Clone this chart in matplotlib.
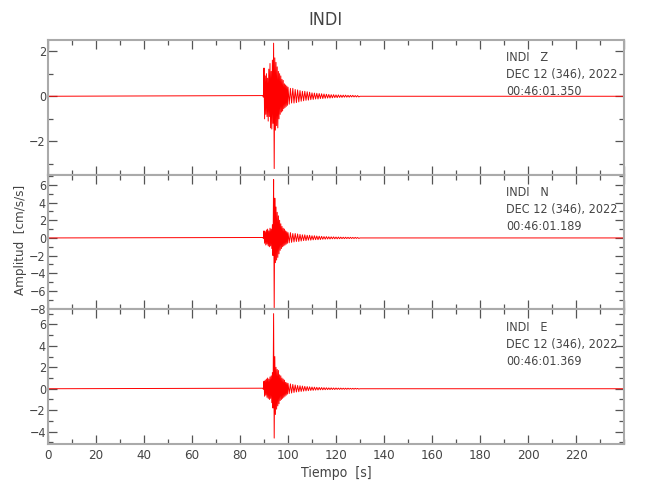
import matplotlib
matplotlib.use("Agg")
import matplotlib.pyplot as plt
from matplotlib.ticker import MultipleLocator
import numpy as np

# station / channel info
station = "INDI"
channels = ["Z", "N", "E"]
start_times = ["00:46:01.350", "00:46:01.189", "00:46:01.369"]
date_label = "DEC 12 (346), 2022"

# sample times: quiet, strong motion (0.25 s), coda (0.5 s), quiet
t_strong = np.arange(89.5, 100.0, 0.25)
t_coda = np.arange(100.0, 130.0, 0.5)

# amplitudes (cm/s/s)
z_strong = [0.03, -0.04, 1.25, -1.0, 0.9, -0.8, 1.0, -0.9, 0.8, -1.1,
            1.2, -0.9, 1.45, -1.4, 1.1, -1.45, 1.6, -1.2, 2.35, -3.2,
            1.7, -1.5, 1.5, -1.3, 1.3, -1.4, 1.1, -1.0, 1.0, -0.8,
            0.9, -0.7, 0.75, -0.65, 0.7, -0.55, 0.55, -0.5, 0.5, -0.45,
            0.45, -0.4]
z_coda = [0.4, -0.35, 0.35, -0.3, 0.35, -0.3, 0.3, -0.28, 0.28, -0.25,
          0.25, -0.22, 0.22, -0.2, 0.22, -0.18, 0.2, -0.17, 0.18, -0.15,
          0.15, -0.14, 0.14, -0.12, 0.13, -0.12, 0.12, -0.1, 0.11, -0.1,
          0.1, -0.09, 0.09, -0.08, 0.08, -0.08, 0.07, -0.07, 0.07, -0.06,
          0.06, -0.06, 0.06, -0.05, 0.05, -0.05, 0.05, -0.04, 0.05, -0.04,
          0.04, -0.04, 0.04, -0.03, 0.04, -0.03, 0.03, -0.03, 0.03, -0.03]

n_strong = [0.05, -0.05, 0.8, -0.6, 0.7, -0.8, 0.9, -0.7, 1.0, -0.9,
            0.8, -1.0, 1.1, -0.9, 1.0, -1.2, 1.5, -2.0, 6.6, -7.9,
            4.5, -2.8, 3.5, -2.5, 2.9, -2.2, 2.5, -1.8, 2.0, -1.4,
            1.6, -1.2, 1.3, -1.0, 1.1, -0.9, 1.0, -0.8, 0.8, -0.7,
            0.7, -0.6]
n_coda = [0.6, -0.55, 0.6, -0.5, 0.5, -0.45, 0.5, -0.4, 0.45, -0.4,
          0.4, -0.35, 0.35, -0.3, 0.35, -0.3, 0.3, -0.25, 0.3, -0.25,
          0.25, -0.22, 0.25, -0.2, 0.22, -0.2, 0.2, -0.18, 0.18, -0.15,
          0.15, -0.14, 0.15, -0.12, 0.13, -0.12, 0.12, -0.1, 0.12, -0.1,
          0.1, -0.1, 0.1, -0.09, 0.09, -0.08, 0.08, -0.08, 0.08, -0.07,
          0.07, -0.07, 0.07, -0.06, 0.06, -0.06, 0.06, -0.05, 0.05, -0.05]

e_strong = [0.05, -0.05, 0.7, -0.7, 0.8, -0.6, 0.9, -0.8, 1.0, -0.9,
            0.9, -1.0, 1.1, -0.9, 1.2, -1.3, 1.5, -1.8, 7.0, -4.6,
            3.0, -2.4, 2.0, -1.9, 1.8, -1.6, 1.7, -1.4, 1.3, -1.1,
            1.2, -1.0, 1.0, -0.9, 0.9, -0.8, 0.8, -0.7, 0.6, -0.6,
            0.55, -0.5]
e_coda = [0.5, -0.45, 0.45, -0.4, 0.4, -0.35, 0.35, -0.3, 0.3, -0.28,
          0.28, -0.25, 0.25, -0.22, 0.22, -0.2, 0.2, -0.18, 0.18, -0.16,
          0.16, -0.15, 0.15, -0.13, 0.13, -0.12, 0.12, -0.1, 0.11, -0.1,
          0.1, -0.09, 0.09, -0.08, 0.08, -0.08, 0.08, -0.07, 0.07, -0.07,
          0.07, -0.06, 0.06, -0.06, 0.06, -0.05, 0.05, -0.05, 0.05, -0.05,
          0.05, -0.04, 0.04, -0.04, 0.04, -0.04, 0.04, -0.03, 0.03, -0.03]

traces = [(z_strong, z_coda), (n_strong, n_coda), (e_strong, e_coda)]
ylims = [(-3.47, 2.49), (-8.08, 7.16), (-5.15, 7.4)]

plt.rcParams['font.family'] = ['DejaVu Sans']
plt.rcParams['font.stretch'] = 'condensed'
txt_col = '#444444'
spine_col = '#aaaaaa'
tick_col = '#555555'

fig = plt.figure(figsize=(6.5, 5), dpi=100)
gs = fig.add_gridspec(3, 1, left=48/650, right=624/650, bottom=1-444/500,
                      top=1-40/500, hspace=0)

t_full = np.concatenate([[0.0], t_strong, t_coda, [130.0, 240.0]])

for i, (strong, coda) in enumerate(traces):
    ax = fig.add_subplot(gs[i])
    y = np.concatenate([[0.0], strong, coda, [0.0, 0.0]])
    ax.plot(t_full, y, color='red', lw=0.7)
    ax.set_xlim(0, 240)
    ax.set_ylim(*ylims[i])
    ax.xaxis.set_major_locator(MultipleLocator(20))
    ax.xaxis.set_minor_locator(MultipleLocator(10))
    ax.yaxis.set_major_locator(MultipleLocator(2))
    ax.yaxis.set_minor_locator(MultipleLocator(1))
    ax.tick_params(which='both', direction='in', top=True, right=True,
                   color=tick_col, labelcolor=txt_col, labelsize=9.5, width=0.9)
    ax.tick_params(which='major', length=6.5)
    ax.tick_params(which='minor', length=3.6)
    ax.tick_params(axis='y', pad=1.5, labelsize=9)
    for s in ax.spines.values():
        s.set_color(spine_col)
        s.set_linewidth(1.5)
    if i < 2:
        ax.tick_params(labelbottom=False)
    else:
        ax.set_xticks(np.arange(0, 221, 20))
        ax.set_xlabel('Tiempo  [s]', color=txt_col, fontsize=10, labelpad=3)
    lines = [station + "   " + channels[i], date_label, start_times[i]]
    for k, line in enumerate(lines):
        ax.text(0.796, 0.867 - k * 0.126, line, transform=ax.transAxes,
                ha='left', va='center', color=txt_col, fontsize=9,
                fontstretch='condensed')

fig.text(325/650, 1-20/500, station, ha='center', va='center',
         color=txt_col, fontsize=13)
fig.text(21/650, 1-240/500, 'Amplitud  [cm/s/s]', rotation=90,
         ha='center', va='center', color=txt_col, fontsize=9.5)

fig.savefig('out.png', dpi=100)
